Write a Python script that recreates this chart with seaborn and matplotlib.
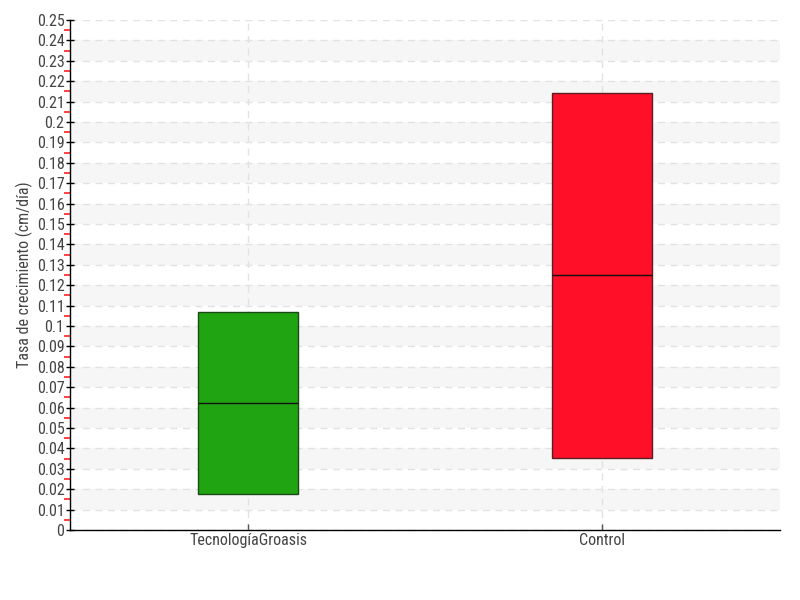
import numpy as np
import pandas as pd
import matplotlib
matplotlib.use("Agg")
import matplotlib.pyplot as plt
import seaborn as sns

# box summary (q1, median, q3); no whiskers shown
categories = ["TecnologíaGroasis", "Control"]
q1 = [0.0176, 0.0353]
median = [0.0623, 0.125]
q3 = [0.1069, 0.2142]
colors = ["#21a412", "#ff0f28"]
edge_colors = ["#1c4a16", "#5a1f24"]

rows = []
for cat, a, m, b in zip(categories, q1, median, q3):
    for v in [a, a, m, b, b]:
        rows.append({"grupo": cat, "tasa": v})
df = pd.DataFrame(rows)

sns.set_style("white")
plt.rcParams["font.family"] = ["Roboto Condensed", "Liberation Sans Narrow", "Roboto", "DejaVu Sans"]

fig = plt.figure(figsize=(8, 6), dpi=100)
ax = fig.add_axes([70 / 800, 70 / 600, 710 / 800, 510 / 600])

# alternating bands
for k in range(1, 25, 2):
    ax.axhspan(k * 0.01, (k + 1) * 0.01, color="#f6f6f6", zorder=0, lw=0)

sns.boxplot(data=df, x="grupo", y="tasa", order=categories, palette=colors,
            hue="grupo", legend=False, width=0.2825, whis=0, showcaps=False,
            showfliers=False, ax=ax, linewidth=1, saturation=1,
            medianprops={"color": "#111111", "linewidth": 1},
            zorder=3)

for patch, ec in zip(ax.patches[-2:], edge_colors):
    patch.set_edgecolor(ec)
    patch.set_alpha(1)

ax.set_xlim(-0.503, 1.503)
ax.set_ylim(0, 0.25)
major = np.round(np.arange(0, 0.2501, 0.01), 3)
minor = np.round(np.arange(0.005, 0.25, 0.01), 3)
ax.yaxis.remove_overlapping_locs = False
ax.set_yticks(major)
ax.set_yticklabels([f"{v:g}" for v in major])
ax.set_yticks(minor, minor=True)

ax.grid(True, axis="both", which="major", linestyle=(0, (5, 4)), color="#e2e2e2", lw=1, zorder=1)
ax.set_axisbelow(True)

for s in ["top", "right"]:
    ax.spines[s].set_visible(False)
for s in ["left", "bottom"]:
    ax.spines[s].set_color("black")
    ax.spines[s].set_linewidth(1)

ax.tick_params(axis="y", which="major", direction="inout", length=6, width=1,
               color="black", labelsize=11.5, labelcolor="#444444", left=True, pad=1)
ax.tick_params(axis="y", which="minor", direction="out", length=4, width=1.2,
               color="#ff2020", left=True)
ax.tick_params(axis="x", which="major", direction="in", length=4, width=1,
               color="#555555", labelsize=11.5, labelcolor="#444444", bottom=True, pad=2)

ax.set_xlabel("")
ax.set_ylabel("Tasa de crecimiento (cm/día)", fontsize=11.5, color="#444444", labelpad=3)

fig.savefig("out.png", dpi=100)
